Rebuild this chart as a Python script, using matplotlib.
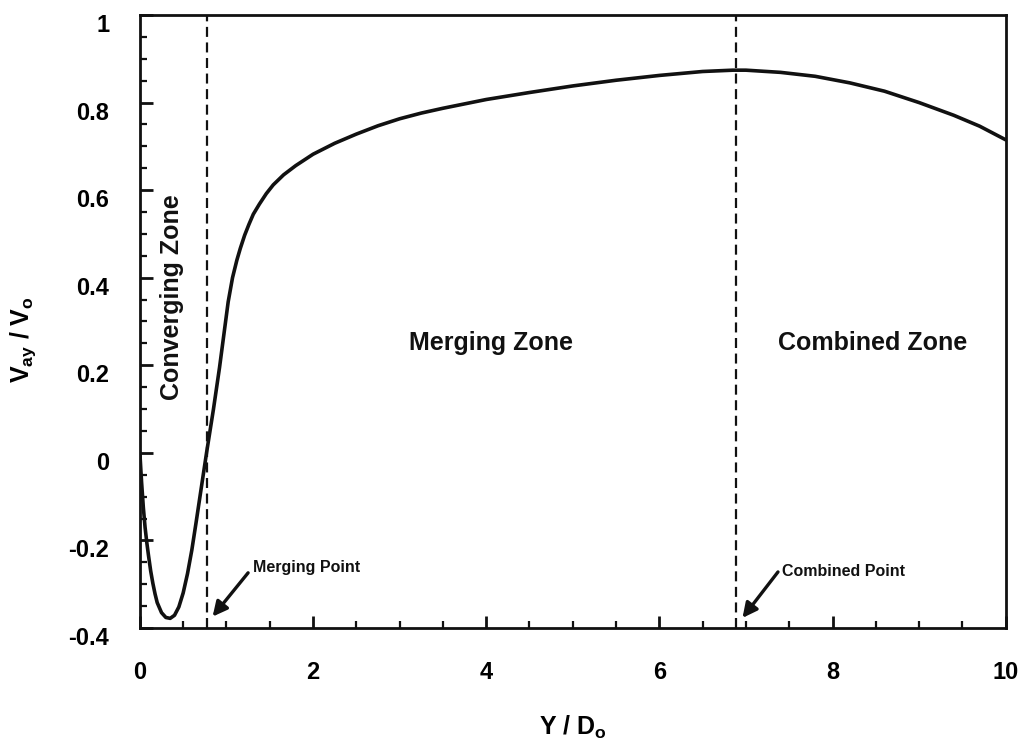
import numpy as np
import matplotlib
matplotlib.use('Agg')
import matplotlib.pyplot as plt
from matplotlib.transforms import ScaledTranslation

plt.rcParams['font.family'] = ['Liberation Sans', 'DejaVu Sans']
plt.rcParams['font.weight'] = 'bold'
plt.rcParams['mathtext.fontset'] = 'custom'
plt.rcParams['mathtext.rm'] = 'Liberation Sans:bold'
plt.rcParams['mathtext.it'] = 'Liberation Sans:bold'
plt.rcParams['mathtext.bf'] = 'Liberation Sans:bold'
plt.rcParams['mathtext.default'] = 'bf'

# curve
y_d = [0, 0.01, 0.02, 0.04, 0.06, 0.08, 0.1, 0.125, 0.15, 0.175, 0.2, 0.25,
       0.3, 0.35, 0.4, 0.45, 0.5, 0.55, 0.6, 0.65, 0.7, 0.77, 0.85, 0.92,
       0.97, 1.02, 1.07, 1.12, 1.16, 1.21, 1.26, 1.31, 1.38, 1.46, 1.54,
       1.66, 1.8, 2.0, 2.25, 2.5, 2.75, 3.0, 3.25, 3.5, 4.0, 4.5, 5.0, 5.5,
       6.0, 6.5, 6.85, 7.0, 7.4, 7.8, 8.2, 8.6, 9.0, 9.4, 9.7, 10.0]
v_ratio = [0.0, -0.035, -0.068, -0.125, -0.17, -0.205, -0.235, -0.27,
           -0.298, -0.322, -0.342, -0.365, -0.376, -0.378, -0.371, -0.352,
           -0.32, -0.276, -0.222, -0.158, -0.092, 0.0, 0.10, 0.195, 0.27,
           0.345, 0.40, 0.44, 0.467, 0.497, 0.522, 0.545, 0.568, 0.592, 0.612,
           0.635, 0.656, 0.682, 0.707, 0.728, 0.747, 0.763, 0.776, 0.787,
           0.807, 0.823, 0.838, 0.851, 0.862, 0.871, 0.874, 0.874, 0.869,
           0.860, 0.845, 0.826, 0.80, 0.771, 0.746, 0.715]

merging_point = 0.77
combined_point = 6.88

fig = plt.figure(figsize=(10.21, 7.43), dpi=100)
ax = fig.add_axes([0.137, 0.1548, 0.848, 0.825])

ax.plot(y_d, v_ratio, color='#111111', lw=2.6, solid_capstyle='round',
        solid_joinstyle='round')
for xp in (merging_point, combined_point):
    ax.axvline(xp, color='#111111', lw=1.6, ls=(0, (4.5, 2.5)))

ax.set_xlim(0, 10)
ax.set_ylim(-0.4, 1)
ax.set_xticks([0, 2, 4, 6, 8, 10])
ax.set_xticklabels(['0', '2', '4', '6', '8', '10'])
ax.set_xticks(np.arange(0, 10.01, 0.5), minor=True)
ax.set_yticks([-0.4, -0.2, 0, 0.2, 0.4, 0.6, 0.8, 1])
ax.set_yticklabels(['-0.4', '-0.2', '0', '0.2', '0.4', '0.6', '0.8', '1'])
ax.set_yticks(np.arange(-0.4, 1.001, 0.05), minor=True)

ax.tick_params(which='both', direction='in', top=False, right=False,
               color='#111111', labelsize=17)
ax.tick_params(which='major', length=9, width=2)
ax.tick_params(which='minor', length=5, width=1.6)
ax.tick_params(axis='y', which='major', pad=22)
ax.tick_params(axis='x', which='major', pad=24)
for s in ax.spines.values():
    s.set_linewidth(2)
    s.set_color('#111111')

off = ScaledTranslation(0, -8 / 100, fig.dpi_scale_trans)
for lab in ax.get_yticklabels():
    lab.set_transform(lab.get_transform() + off)

ax.set_ylabel(r'$V_{ay}$ / $V_o$', fontsize=18, fontweight='bold')
ax.yaxis.set_label_coords(-0.118, 0.47)
ax.set_xlabel(r'Y / $D_o$', fontsize=18, fontweight='bold')
ax.xaxis.set_label_coords(0.5, -0.14)

ax.text(0.37, 0.355, 'Converging Zone', rotation=90, ha='center', va='center',
        fontsize=18, fontweight='bold', color='#111111')
ax.text(4.06, 0.25, 'Merging Zone', ha='center', va='center',
        fontsize=18, fontweight='bold', color='#111111')
ax.text(8.46, 0.25, 'Combined Zone', ha='center', va='center',
        fontsize=18, fontweight='bold', color='#111111')

arrow = dict(arrowstyle='-|>', color='#111111', lw=2.4, mutation_scale=22,
             shrinkA=0, shrinkB=0)
ax.annotate('', xy=(0.84, -0.374), xytext=(1.25, -0.274), arrowprops=arrow)
ax.text(1.31, -0.262, 'Merging Point', ha='left', va='center',
        fontsize=11.5, fontweight='bold', color='#111111')
ax.annotate('', xy=(6.96, -0.377), xytext=(7.37, -0.272), arrowprops=arrow)
ax.text(7.42, -0.272, 'Combined Point', ha='left', va='center',
        fontsize=11.5, fontweight='bold', color='#111111')

fig.savefig('out.png', dpi=100)
